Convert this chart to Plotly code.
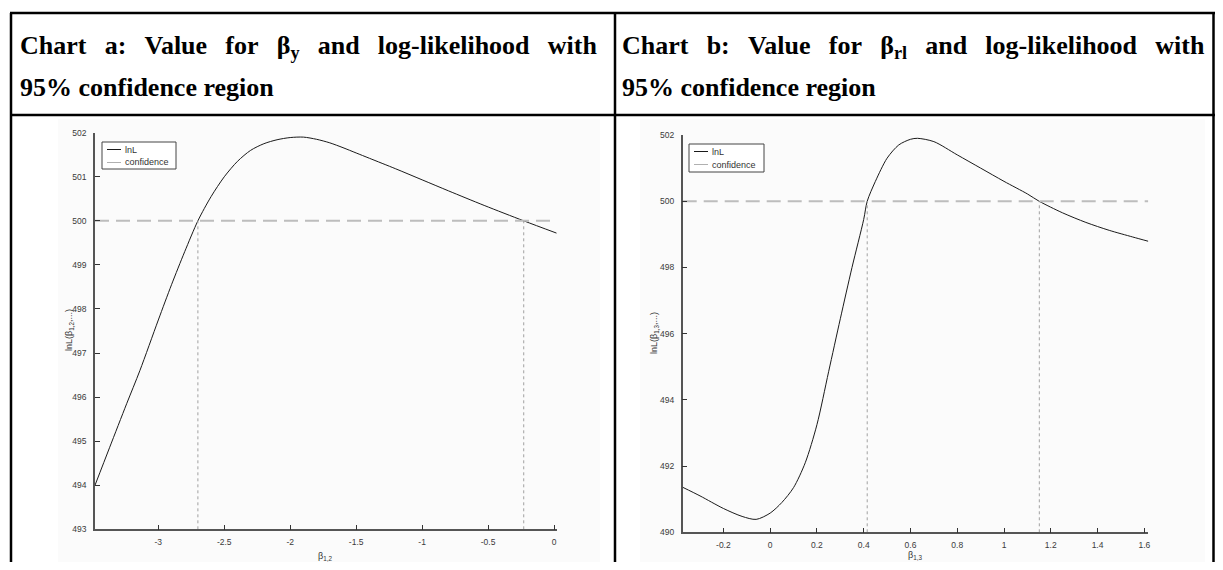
import plotly.graph_objects as go

# chart a: beta_y profile log-likelihood
beta_a = [-3.48, -3.37, -3.24, -3.14, -3.0, -2.9, -2.8, -2.7, -2.6, -2.5, -2.4, -2.3, -2.2,
          -2.1, -2.0, -1.9, -1.8, -1.7, -1.6, -1.5, -1.4, -1.2, -1.0, -0.8, -0.53, -0.23, 0.02]
lnl_a = [494.0, 494.85, 495.85, 496.6, 497.75, 498.55, 499.3, 500.0, 500.55, 501.0, 501.35, 501.6, 501.75,
         501.84, 501.89, 501.9, 501.85, 501.77, 501.66, 501.54, 501.42, 501.18, 500.93, 500.68, 500.35, 500.0, 499.72]
conf_a = [-2.70, -0.23]
xticks_a = [-3, -2.5, -2, -1.5, -1, -0.5, 0]

# chart b: beta_rl profile log-likelihood
beta_b = [-0.374, -0.3, -0.2, -0.12, -0.06, 0.0, 0.05, 0.1, 0.15, 0.2, 0.25, 0.3, 0.35, 0.4, 0.415,
          0.45, 0.5, 0.55, 0.6, 0.63, 0.7, 0.8, 0.9, 1.0, 1.1, 1.15, 1.25, 1.35, 1.45, 1.55, 1.617]
lnl_b = [491.36, 491.1, 490.72, 490.48, 490.39, 490.58, 490.9, 491.35, 492.1, 493.25, 494.85, 496.45, 498.0, 499.45, 500.0,
         500.6, 501.3, 501.7, 501.87, 501.9, 501.8, 501.4, 501.0, 500.6, 500.22, 500.0, 499.65, 499.36, 499.12, 498.92, 498.79]
conf_b = [0.415, 1.151]
xticks_b = [-0.2, 0, 0.2, 0.4, 0.6, 0.8, 1, 1.2, 1.4, 1.6]

conf_level = 500

# the page body keeps an 8px margin round the figure
OFFX, OFFY = 8, 8
FW, FH = 1207, 554


def px(x):
    return (x - OFFX) / FW


def py(y):
    return 1 - (y - OFFY) / FH


def labels(vals):
    return ["%g" % v for v in vals]


fig = go.Figure()

panels = [
    dict(x=beta_a, y=lnl_a, conf=conf_a, xr=[-3.48, 0.02], xa="x", ya="y", ymin=493),
    dict(x=beta_b, y=lnl_b, conf=conf_b, xr=[-0.374, 1.617], xa="x2", ya="y2", ymin=490),
]

for p in panels:
    fig.add_trace(go.Scatter(x=p["x"], y=p["y"], mode="lines", name="lnL",
                             line=dict(color="#1a1a1a", width=1, shape="spline", smoothing=0.8),
                             xaxis=p["xa"], yaxis=p["ya"]))
    fig.add_trace(go.Scatter(x=p["xr"], y=[conf_level, conf_level], mode="lines", name="confidence",
                             line=dict(color="#bdbdbd", width=2, dash="14px,7px"),
                             xaxis=p["xa"], yaxis=p["ya"]))
    for c in p["conf"]:
        fig.add_trace(go.Scatter(x=[c, c], y=[p["ymin"], conf_level], mode="lines",
                                 line=dict(color="#a0a0a0", width=1, dash="dot"),
                                 xaxis=p["xa"], yaxis=p["ya"]))

axis_style = dict(showgrid=False, zeroline=False, showline=True, linecolor="#555", linewidth=1.5,
                  ticks="inside", ticklen=5, tickcolor="#333", automargin=False,
                  tickfont=dict(family="Liberation Sans, Arial", size=8.5, color="#3a3a3a"))

fig.update_layout(
    width=FW, height=FH,
    margin=dict(l=0, r=0, t=0, b=0, pad=0, autoexpand=False),
    paper_bgcolor="white", plot_bgcolor="rgba(0,0,0,0)",
    showlegend=False,
    xaxis=dict(domain=[px(95), px(556.7)], range=[-3.48, 0.02], tickvals=xticks_a, ticktext=labels(xticks_a),
               anchor="y", ticklabelstandoff=4, **axis_style),
    yaxis=dict(domain=[py(529.3), py(132.7)], range=[493, 502], dtick=1, anchor="x",
               ticklabelstandoff=5, **axis_style),
    xaxis2=dict(domain=[px(682.7), px(1148.3)], range=[-0.374, 1.617], tickvals=xticks_b, ticktext=labels(xticks_b),
                anchor="y2", ticklabelstandoff=4, **axis_style),
    yaxis2=dict(domain=[py(532.3), py(135)], range=[490, 502], dtick=2, anchor="x2",
                ticklabelstandoff=5, **axis_style),
)

# light grey backdrop of the pasted figures
for x0, x1 in [(58, 600), (640, 1205)]:
    fig.add_shape(type="rect", xref="paper", yref="paper", x0=px(x0), x1=px(x1), y0=0, y1=py(119),
                  fillcolor="#fbfbfb", line=dict(width=0), layer="below")

# legends drawn by hand (compact, like the original)
leg_font = dict(family="Liberation Sans, Arial", size=9, color="#333")
for bx0, bx1, by0, by1 in [(102, 176, 142, 169), (689, 764, 144, 172)]:
    fig.add_shape(type="rect", xref="paper", yref="paper", x0=px(bx0), x1=px(bx1), y0=py(by1), y1=py(by0),
                  fillcolor="white", line=dict(color="#444", width=1))
    r1 = by0 + 7.5
    r2 = by0 + 20.5
    fig.add_shape(type="line", xref="paper", yref="paper", x0=px(bx0 + 5), x1=px(bx0 + 19), y0=py(r1), y1=py(r1),
                  line=dict(color="#1a1a1a", width=1))
    fig.add_shape(type="line", xref="paper", yref="paper", x0=px(bx0 + 5), x1=px(bx0 + 19), y0=py(r2), y1=py(r2),
                  line=dict(color="#b0b0b0", width=1))
    fig.add_annotation(xref="paper", yref="paper", x=px(bx0 + 22), y=py(r1), xanchor="left", yanchor="middle",
                       text="lnL", showarrow=False, font=leg_font, borderpad=0)
    fig.add_annotation(xref="paper", yref="paper", x=px(bx0 + 22), y=py(r2), xanchor="left", yanchor="middle",
                       text="confidence", showarrow=False, font=leg_font, borderpad=0)

# table borders
line = dict(color="black", width=2.5)
fig.add_shape(type="line", xref="paper", yref="paper", x0=px(10), x1=1, y0=py(13), y1=py(13), line=line)
fig.add_shape(type="line", xref="paper", yref="paper", x0=px(10), x1=1, y0=py(115), y1=py(115), line=line)
for xv in [11, 615, 1213.5]:
    fig.add_shape(type="line", xref="paper", yref="paper", x0=px(xv), x1=px(xv), y0=0, y1=py(13), line=line)

title_font = dict(family="Liberation Serif, Times New Roman", size=26, color="black")
gap = "&#8194;&#8201;"
titles = [
    (18, ["Chart", "a:", "Value", "for", "β<sub>y</sub>", "and", "log-likelihood", "with"]),
    (620, ["Chart", "b:", "Value", "for", "β<sub>rl</sub>", "and", "log-likelihood", "with"]),
]
for x0, words in titles:
    fig.add_annotation(xref="paper", yref="paper", x=px(x0), y=py(47), xanchor="left", yanchor="middle",
                       text="<b>" + gap.join(words) + "</b>", showarrow=False, font=title_font)
    fig.add_annotation(xref="paper", yref="paper", x=px(x0), y=py(87), xanchor="left", yanchor="middle",
                       text="<b>95% confidence region</b>", showarrow=False, font=title_font)

small = dict(family="Liberation Sans, Arial", size=9, color="#333")
for x, y, t, ang in [(325, 556, "β<sub>1,2</sub>", 0), (915, 555, "β<sub>1,3</sub>", 0),
                     (69, 330, "lnL(β<sub>1,2</sub>,...)", -90), (654, 333, "lnL(β<sub>1,3</sub>,...)", -90)]:
    fig.add_annotation(xref="paper", yref="paper", x=px(x), y=py(y), xanchor="center", yanchor="middle",
                       text=t, textangle=ang, showarrow=False, font=small)

fig.write_html("out.html")
